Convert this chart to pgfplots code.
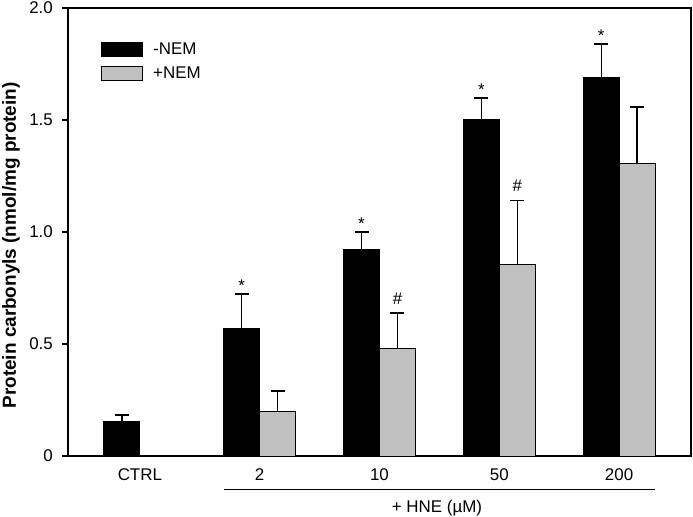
\documentclass[border=0pt]{standalone}
\usepackage{pgfplots}
\pgfplotsset{compat=1.18}
\usepackage{fontspec}
\setmainfont{Liberation Sans}
\definecolor{lightbar}{HTML}{C0C0C0}
\newcommand{\fs}{\fontsize{17}{20}\selectfont}
\begin{document}
\begin{tikzpicture}
\begin{axis}[
  scale only axis, width=623bp, height=448bp,
  xmin=-0.6, xmax=4.6, ymin=0, ymax=2,
  ytick={0,0.5,1,1.5,2}, yticklabels={0,0.5,1.0,1.5,2.0},
  xtick={0,1,2,3,4}, xticklabels={CTRL,2,10,50,200},
  major tick length=6bp,
  xtick style={draw=none},
  ytick pos=left, tick align=outside,
  axis line style={line width=1.3bp},
  ytick style={line width=1.3bp, black},
  ticklabel style={font=\fs, inner sep=0pt},
  xticklabel style={anchor=north, yshift=-6bp},
  yticklabel style={anchor=east, xshift=-9bp},
  /pgf/number format/assume math mode=true,
  clip=false,
  ybar=0pt, bar width=0.3,
  legend image code/.code={\draw[#1, line width=1bp] (0bp,-7bp) rectangle (41bp,7bp); \path (51bp,0bp);},
  legend style={draw=none, fill=none, at={(0.053,0.924)}, anchor=north west,
    inner sep=0pt, font=\fs, row sep=9bp,
    nodes={inner sep=0pt}},
  legend cell align=left,
  error bars/error bar style={line width=1.2bp, black},
  error bars/error mark options={rotate=90, mark size=7bp, line width=1.2bp, black},
]
\addplot[fill=black, draw=black, line width=1bp, bar shift=-0.15,
  error bars/.cd, y dir=plus, y explicit]
  coordinates {
    (0,0.156) +- (0,0.027)
    (1,0.571) +- (0,0.152)
    (2,0.924) +- (0,0.076)
    (3,1.504) +- (0,0.094)
    (4,1.6875) +- (0,0.152)
  };
\addlegendentry{-NEM}
\addplot[fill=lightbar, draw=black, line width=1bp, bar shift=0.15,
  error bars/.cd, y dir=plus, y explicit]
  coordinates {
    (1,0.200) +- (0,0.090)
    (2,0.478) +- (0,0.160)
    (3,0.857) +- (0,0.283)
    (4,1.308) +- (0,0.250)
  };
\addlegendentry{+NEM}
% significance marks
\node[font=\fs, inner sep=0, anchor=base] at ([yshift=2.3bp]axis cs:0.85,0.723) {*};
\node[font=\fs, inner sep=0, anchor=base] at ([yshift=2.3bp]axis cs:1.85,1.000) {*};
\node[font=\fs, inner sep=0, anchor=base] at ([yshift=2.3bp]axis cs:2.85,1.598) {*};
\node[font=\fs, inner sep=0, anchor=base] at ([yshift=2.3bp]axis cs:3.85,1.840) {*};
\node[font=\fs, inner sep=0, anchor=base] at ([yshift=9bp]axis cs:2.15,0.638) {\#};
\node[font=\fs, inner sep=0, anchor=base] at ([yshift=9bp]axis cs:3.15,1.140) {\#};
% HNE bracket
\draw[line width=1.2bp] ([yshift=-33.5bp]axis cs:0.7,0) -- ([yshift=-33.5bp]axis cs:4.3,0);
\node[font=\fs, inner sep=0] at ([yshift=-52bp]axis cs:2.48,0) {+ HNE (µM)};
% y label
\node[font=\fontsize{19}{22}\selectfont\bfseries, inner sep=0, rotate=90] at ([xshift=-57bp]rel axis cs:0,0.47) {Protein carbonyls (nmol/mg protein)};
\coordinate (LL) at (rel axis cs:0,0);
\coordinate (UR) at (rel axis cs:1,1);
\end{axis}
\pgfresetboundingbox
\path[use as bounding box] ([shift={(-68bp,-61bp)}]LL) rectangle ([shift={(2bp,8bp)}]UR);
\end{tikzpicture}
\end{document}
